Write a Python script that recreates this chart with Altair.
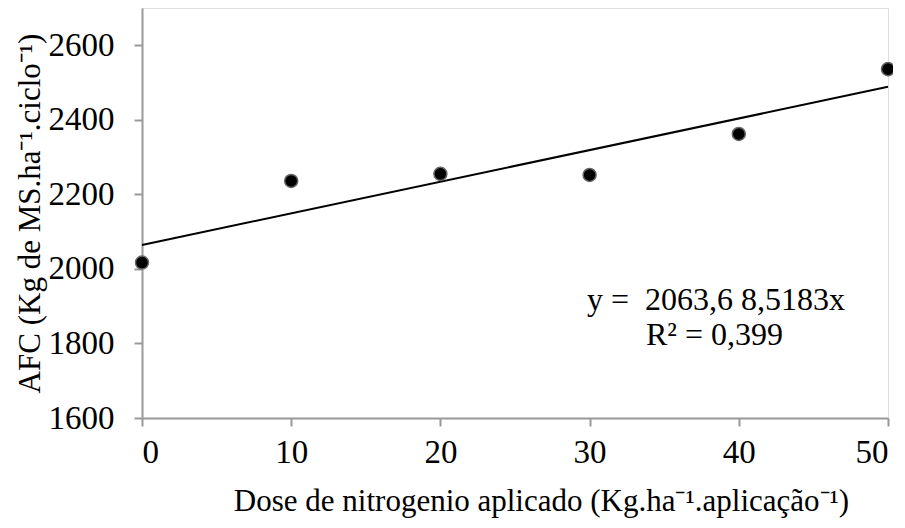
import altair as alt
import pandas as pd

dose = [0, 10, 20, 30, 40, 50]
afc = [2017, 2236, 2255, 2252, 2362, 2536]
eq_line1 = "y =\u00a0 2063,6 8,5183x"
eq_line2 = "R² = 0,399"

df = pd.DataFrame({"dose": dose, "afc": afc})

FONT = "Liberation Serif"
W, H = 746, 410

xs = alt.Scale(domain=[0, 50], nice=False, zero=False)
ys = alt.Scale(domain=[1600, 2700], nice=False, zero=False)

xaxis = alt.Axis(values=[0, 10, 20, 30, 40, 50], grid=False, format="d",
                 title="Dose de nitrogenio aplicado (Kg.ha⁻¹.aplicação⁻¹)",
                 titleX=399, titleY=92, titleBaseline="alphabetic",
                 titleFont=FONT, titleFontSize=31, titleFontWeight="normal", titleColor="black",
                 labelFont=FONT, labelFontSize=33, labelColor="black", labelPadding=10,
                 tickSize=8, tickColor="#999999", domainColor="#999999", domainWidth=2, tickWidth=2)
yaxis = alt.Axis(values=[1600, 1800, 2000, 2200, 2400, 2600], grid=False, format="d",
                 title="AFC (Kg de MS.ha⁻¹.ciclo⁻¹)",
                 titleX=-103, titleBaseline="alphabetic", titleAngle=-90,
                 titleFont=FONT, titleFontSize=31, titleFontWeight="normal", titleColor="black",
                 labelFont=FONT, labelFontSize=33, labelColor="black", labelPadding=20,
                 tickSize=8, tickColor="#999999", domainColor="#999999", domainWidth=2, tickWidth=2)

base = alt.Chart(df)

trend = base.transform_regression("dose", "afc", extent=[0, 50]).mark_line(
    color="black", strokeWidth=2
).encode(x=alt.X("dose:Q", scale=xs, axis=xaxis), y=alt.Y("afc:Q", scale=ys, axis=yaxis))

pts = base.mark_point(filled=True, color="black", size=170, opacity=1,
                      stroke="#666666", strokeWidth=1.5).encode(
    x=alt.X("dose:Q", scale=xs), y=alt.Y("afc:Q", scale=ys))

t1 = alt.Chart(pd.DataFrame({"t": [eq_line1]})).mark_text(
    font=FONT, fontSize=32, align="left", baseline="alphabetic", color="black"
).encode(text="t:N", x=alt.value(445), y=alt.value(302))
t2 = alt.Chart(pd.DataFrame({"t": [eq_line2]})).mark_text(
    font=FONT, fontSize=32, align="left", baseline="alphabetic", color="black"
).encode(text="t:N", x=alt.value(504), y=alt.value(337))

chart = alt.layer(trend, pts, t1, t2).properties(
    width=W, height=H,
    autosize=alt.AutoSizeParams(type="none"),
    padding={"left": 134, "top": 0, "right": 5, "bottom": 102},
).configure_view(stroke=None).configure(background="white")

chart.save("out.html", embed_options={"renderer": "svg", "actions": False})
